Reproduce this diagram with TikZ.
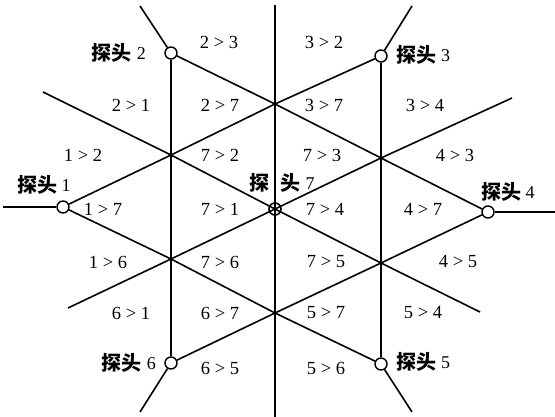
\documentclass[tikz,border=0pt]{standalone}
\usepackage{fontspec}
\setmainfont{Liberation Serif}
\newfontfamily\cjkfont{Noto Sans CJK SC}
\newcommand\tantou{{\cjkfont\bfseries\fontsize{20}{22}\selectfont 探头}}
\newcommand\probenum[1]{\raisebox{1.5pt}{\fontsize{18}{20}\selectfont #1}}
\newcommand\relab[2]{#1\hspace{0.25em}>\hspace{0.25em}#2}
\tikzset{
  wire/.style={line width=1.6pt, line join=miter},
  probe/.style={circle, draw, line width=1.4pt, minimum size=12pt, inner sep=0pt, fill=white},
  rel/.style={font=\fontsize{18.5}{20}\selectfont, inner sep=0pt},
  plabel/.style={inner sep=0pt}
}
\begin{document}
\begin{tikzpicture}[x=1pt,y=-1pt]
\useasboundingbox (0,0) rectangle (555,417);
% probes
\node[probe] (P1) at (63,207) {};
\node[probe] (P4) at (488,212) {};
\node[probe] (P2) at (171,53) {};
\node[probe] (P3) at (381,56) {};
\node[probe] (P6) at (171,363) {};
\node[probe] (P5) at (381,364) {};
\coordinate (P7) at (275,209);
% intersections
\coordinate (A) at (171,155);
\coordinate (B) at (275,104);
\coordinate (C) at (381,158);
\coordinate (D) at (171,259);
\coordinate (E) at (275,313);
\coordinate (F) at (381,263);
% free ends
\coordinate (O2) at (140,6);
\coordinate (O3) at (412,6);
\coordinate (O6) at (140,412);
\coordinate (O5) at (412,412);
\coordinate (Vt) at (275,5);
\coordinate (Vb) at (275,417);
\coordinate (Hl) at (3,207);
\coordinate (Hr) at (555,212);
\coordinate (Ka) at (43,92);
\coordinate (Kb) at (480,312);
\coordinate (Ma) at (68,308);
\coordinate (Mb) at (512,98);
% lines
\draw[wire] (Hl) -- (P1);
\draw[wire] (P4) -- (Hr);
\draw[wire] (P2) -- (O2);
\draw[wire] (P3) -- (O3);
\draw[wire] (P6) -- (O6);
\draw[wire] (P5) -- (O5);
\draw[wire] (Vt) -- (Vb);
\draw[wire] (P2) -- (P6);
\draw[wire] (P3) -- (P5);
\draw[wire] (P2) -- (B) -- (C) -- (P4);
\draw[wire] (P1) -- (A) -- (B) -- (P3);
\draw[wire] (Ka) -- (A) -- (P7) -- (F) -- (Kb);
\draw[wire] (Ma) -- (D) -- (P7) -- (C) -- (Mb);
\draw[wire] (P1) -- (D) -- (E) -- (P5);
\draw[wire] (P6) -- (E) -- (F) -- (P4);
\node[circle, draw, line width=1.6pt, minimum size=12pt, inner sep=0pt] (P7c) at (P7) {};
% probe labels
\node[plabel, anchor=east] (T2) at (146,53) {\tantou\hspace{5pt}\probenum{2}};
\node[plabel, anchor=west] (T3) at (396,55) {\tantou\hspace{5pt}\probenum{3}};
\node[plabel] (T1) at (44,185) {\tantou\hspace{4pt}\probenum{1}};
\node[plabel] (T4) at (508,192) {\tantou\hspace{4pt}\probenum{4}};
\node[plabel] (T7) at (282,183) {{\cjkfont\bfseries\fontsize{20}{22}\selectfont 探\hspace{11pt}头}\hspace{5pt}\probenum{7}};
\node[plabel, anchor=east] (T6) at (156,363) {\tantou\hspace{5pt}\probenum{6}};
\node[plabel, anchor=west] (T5) at (396,362) {\tantou\hspace{5pt}\probenum{5}};
% relation labels
\node[rel] (r23) at (219,42) {\relab{2}{3}};
\node[rel] (r32) at (324,42) {\relab{3}{2}};
\node[rel] (r21) at (131,105) {\relab{2}{1}};
\node[rel] (r27) at (220,105) {\relab{2}{7}};
\node[rel] (r37) at (324,105) {\relab{3}{7}};
\node[rel] (r34) at (425,105) {\relab{3}{4}};
\node[rel] (r12) at (83,155) {\relab{1}{2}};
\node[rel] (r72) at (220,155) {\relab{7}{2}};
\node[rel] (r73) at (322,155) {\relab{7}{3}};
\node[rel] (r43) at (455,155) {\relab{4}{3}};
\node[rel] (r17) at (103,209) {\relab{1}{7}};
\node[rel] (r71) at (220,209) {\relab{7}{1}};
\node[rel] (r74) at (325,209) {\relab{7}{4}};
\node[rel] (r47) at (423,209) {\relab{4}{7}};
\node[rel] (r16) at (108,262) {\relab{1}{6}};
\node[rel] (r76) at (220,262) {\relab{7}{6}};
\node[rel] (r75) at (326,262) {\relab{7}{5}};
\node[rel] (r45) at (458,262) {\relab{4}{5}};
\node[rel] (r61) at (131,313) {\relab{6}{1}};
\node[rel] (r67) at (220,313) {\relab{6}{7}};
\node[rel] (r57) at (326,313) {\relab{5}{7}};
\node[rel] (r54) at (423,313) {\relab{5}{4}};
\node[rel] (r65) at (220,368) {\relab{6}{5}};
\node[rel] (r56) at (326,368) {\relab{5}{6}};
\end{tikzpicture}
\end{document}
